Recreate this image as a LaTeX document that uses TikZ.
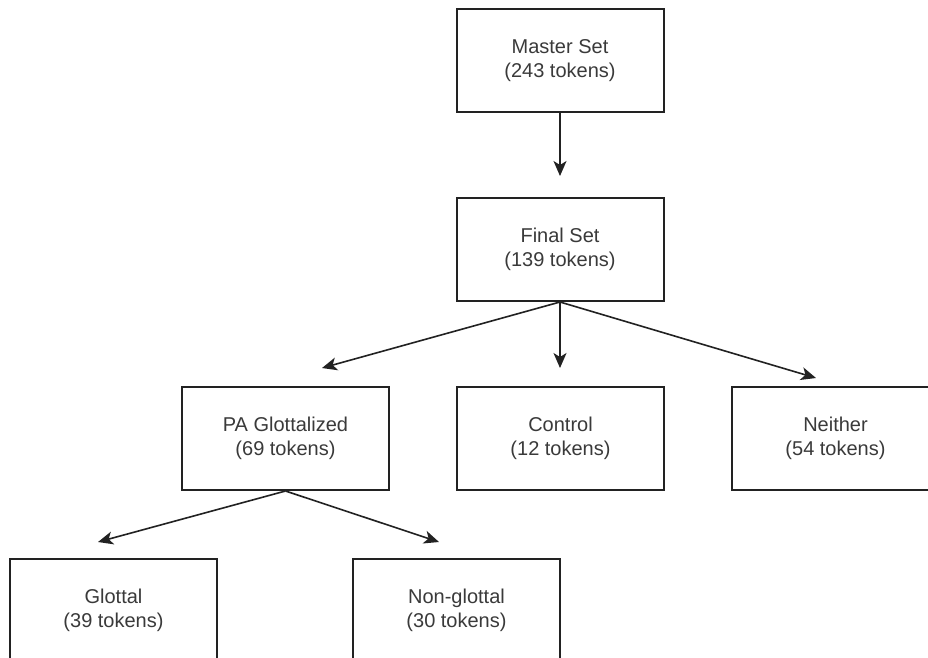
\documentclass[tikz,border=0pt]{standalone}
\usepackage{fontspec}
\setmainfont{Liberation Sans}
\usetikzlibrary{arrows.meta}
\definecolor{linec}{HTML}{222222}
\definecolor{textc}{HTML}{3A3A3A}
\tikzset{
  box/.style={draw=linec, line width=2pt, fill=white, minimum width=207pt, minimum height=103pt,
    inner sep=0pt, align=center, text=textc, font=\fontsize{20}{23.5}\selectfont},
  conn/.style={draw=linec, line width=1.6pt, -{Stealth[length=15pt,width=13pt,inset=4pt]}}
}
\begin{document}
\begin{tikzpicture}[x=1pt,y=-1pt]
\useasboundingbox (0,0) rectangle (928,657);
\clip (0,0) rectangle (928,657);
\fill[white] (0,0) rectangle (928,657);
\node[box] (master) at (560,60.5) {Master Set\\(243 tokens)};
\node[box] (final) at (560,249.5) {Final Set\\(139 tokens)};
\node[box] (pa) at (285.5,438.5) {PA Glottalized\\(69 tokens)};
\node[box] (control) at (560.5,438.5) {Control\\(12 tokens)};
\node[box] (neither) at (835.5,438.5) {Neither\\(54 tokens)};
\node[box] (glottal) at (113.5,610.5) {Glottal\\(39 tokens)};
\node[box] (nonglottal) at (456.5,610.5) {Non-glottal\\(30 tokens)};
\coordinate (tm) at (560,176);
\coordinate (tpa) at (322,368);
\coordinate (tc) at (560,368);
\coordinate (tn) at (816,378);
\coordinate (tg) at (98,542);
\coordinate (tng) at (439,542);
\draw[conn] (master.south) -- (tm);
\draw[conn] (final.south) -- (tpa);
\draw[conn] (final.south) -- (tc);
\draw[conn] (final.south) -- (tn);
\draw[conn] (pa.south) -- (tg);
\draw[conn] (pa.south) -- (tng);
\end{tikzpicture}
\end{document}
